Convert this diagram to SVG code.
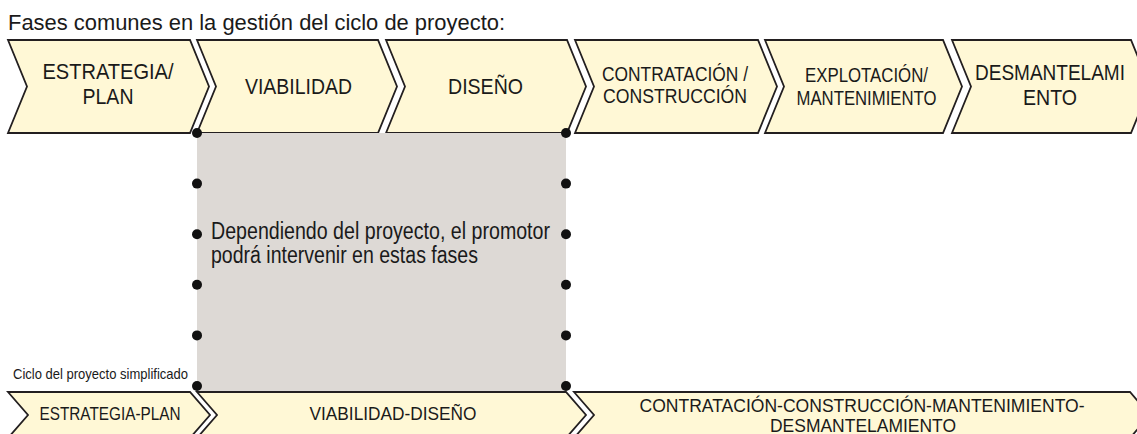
<svg xmlns="http://www.w3.org/2000/svg" width="1137" height="434" viewBox="0 0 1137 434">
<style>
.chev{fill:#fff8d6;stroke:#231f20;stroke-width:1.8;stroke-linejoin:miter}
.t{font-family:"Liberation Sans",Arial,sans-serif;fill:#1a1a1a}
.lbl{font-size:22px;text-anchor:middle}
.lbs{font-size:21px;text-anchor:middle}
.blb{font-size:19px;text-anchor:middle}
.dot{fill:#111}
</style>
<rect width="1137" height="434" fill="#ffffff"/>
<text class="t" x="8" y="30" font-size="22" textLength="497" lengthAdjust="spacingAndGlyphs">Fases comunes en la gestión del ciclo de proyecto:</text>

<g id="phase-estrategia">
<polygon class="chev" points="8,40 190,40 209,86.5 190,133 8,133 27,86.5"/>
<text class="t lbl" x="108" y="79" textLength="131" lengthAdjust="spacingAndGlyphs">ESTRATEGIA/</text>
<text class="t lbl" x="108" y="104" textLength="51" lengthAdjust="spacingAndGlyphs">PLAN</text>
</g>
<g id="phase-viabilidad">
<polygon class="chev" points="197,40 378,40 397,86.5 378,133 197,133 216,86.5"/>
<text class="t lbl" x="298.5" y="94" textLength="107" lengthAdjust="spacingAndGlyphs">VIABILIDAD</text>
</g>
<g id="phase-diseno">
<polygon class="chev" points="386,40 567,40 586,86.5 567,133 386,133 405,86.5"/>
<text class="t lbl" x="485.5" y="94" textLength="75" lengthAdjust="spacingAndGlyphs">DISEÑO</text>
</g>
<g id="phase-contratacion">
<polygon class="chev" points="575,40 758,40 777,86.5 758,133 575,133 594,86.5"/>
<text class="t lbs" x="675" y="80.5" textLength="146" lengthAdjust="spacingAndGlyphs">CONTRATACIÓN /</text>
<text class="t lbs" x="675" y="103" textLength="144" lengthAdjust="spacingAndGlyphs">CONSTRUCCIÓN</text>
</g>
<g id="phase-explotacion">
<polygon class="chev" points="765,40 943,40 962,86.5 943,133 765,133 784,86.5"/>
<text class="t lbs" x="866.5" y="81.5" textLength="123" lengthAdjust="spacingAndGlyphs">EXPLOTACIÓN/</text>
<text class="t lbs" x="866.5" y="104.5" textLength="140" lengthAdjust="spacingAndGlyphs">MANTENIMIENTO</text>
</g>
<g id="phase-desmantelamiento">
<polygon class="chev" points="952,40 1131,40 1150,86.5 1131,133 952,133 971,86.5"/>
<text class="t lbl" x="1050" y="80" textLength="150" lengthAdjust="spacingAndGlyphs">DESMANTELAMI</text>
<text class="t lbl" x="1050" y="105" textLength="54" lengthAdjust="spacingAndGlyphs">ENTO</text>
</g>

<g id="promotor-area">
<rect x="197" y="133" width="369" height="259" fill="#ddd9d5"/>
<text class="t" x="211" y="239" font-size="23" textLength="339" lengthAdjust="spacingAndGlyphs">Dependiendo del proyecto, el promotor</text>
<text class="t" x="211" y="263" font-size="23" textLength="267" lengthAdjust="spacingAndGlyphs">podrá intervenir en estas fases</text>
</g>

<g id="dots">
<circle class="dot" cx="197" cy="133" r="5"/>
<circle class="dot" cx="197" cy="183.6" r="5"/>
<circle class="dot" cx="197" cy="234.2" r="5"/>
<circle class="dot" cx="197" cy="284.8" r="5"/>
<circle class="dot" cx="197" cy="335.4" r="5"/>
<circle class="dot" cx="197" cy="386" r="5"/>
<circle class="dot" cx="566" cy="133" r="5"/>
<circle class="dot" cx="566" cy="183.6" r="5"/>
<circle class="dot" cx="566" cy="234.2" r="5"/>
<circle class="dot" cx="566" cy="284.8" r="5"/>
<circle class="dot" cx="566" cy="335.4" r="5"/>
<circle class="dot" cx="566" cy="386" r="5"/>
</g>

<text class="t" x="13" y="379" font-size="15" textLength="175" lengthAdjust="spacingAndGlyphs">Ciclo del proyecto simplificado</text>

<g id="simple-estrategia-plan">
<polygon class="chev" points="8,392 190,392 210,415 190,438 8,438 28,415"/>
<text class="t blb" x="110" y="420" textLength="141" lengthAdjust="spacingAndGlyphs">ESTRATEGIA-PLAN</text>
</g>
<g id="simple-viabilidad-diseno">
<polygon class="chev" points="197,392 566,392 586,415 566,438 197,438 217,415"/>
<text class="t blb" x="393" y="420" textLength="167" lengthAdjust="spacingAndGlyphs">VIABILIDAD-DISEÑO</text>
</g>
<g id="simple-contratacion">
<polygon class="chev" points="574,392 1130,392 1150,415 1130,438 574,438 594,415"/>
<text class="t blb" x="862" y="412" textLength="445" lengthAdjust="spacingAndGlyphs">CONTRATACIÓN-CONSTRUCCIÓN-MANTENIMIENTO-</text>
<text class="t blb" x="863" y="432" textLength="186" lengthAdjust="spacingAndGlyphs">DESMANTELAMIENTO</text>
</g>
</svg>
